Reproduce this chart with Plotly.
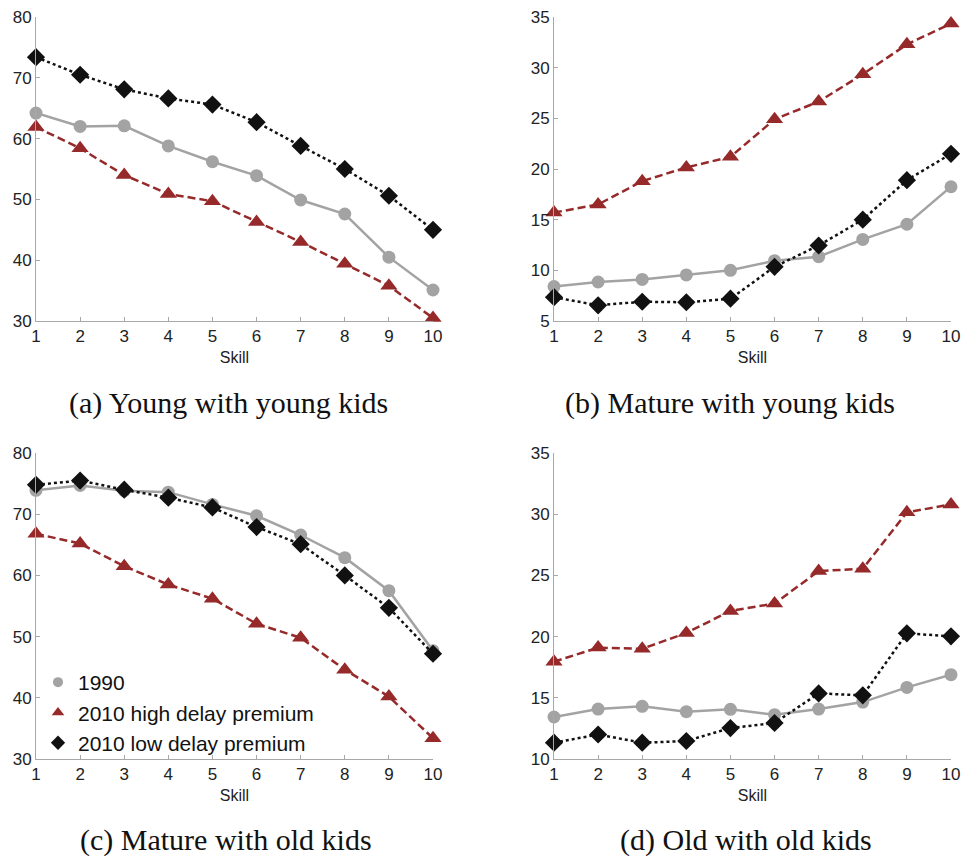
import plotly.graph_objects as go

skill = [1, 2, 3, 4, 5, 6, 7, 8, 9, 10]

# (a) Young with young kids
a_1990 = [64.2, 62.0, 62.1, 58.8, 56.2, 53.9, 49.9, 47.6, 40.5, 35.1]
a_high = [61.9, 58.4, 54.0, 50.9, 49.7, 46.3, 43.0, 39.4, 35.8, 30.5]
a_low = [73.4, 70.5, 68.1, 66.6, 65.6, 62.7, 58.8, 55.0, 50.6, 45.0]

# (b) Mature with young kids
b_1990 = [8.4, 8.85, 9.1, 9.55, 10.0, 10.95, 11.35, 13.05, 14.55, 18.25]
b_high = [15.7, 16.5, 18.8, 20.15, 21.2, 24.9, 26.65, 29.35, 32.3, 34.35]
b_low = [7.35, 6.55, 6.9, 6.85, 7.2, 10.35, 12.45, 15.0, 18.9, 21.5]

# (c) Mature with old kids
c_1990 = [73.9, 74.7, 73.85, 73.6, 71.6, 69.75, 66.6, 62.9, 57.5, 47.7]
c_high = [66.8, 65.2, 61.5, 58.5, 56.2, 52.1, 49.8, 44.6, 40.2, 33.4]
c_low = [74.8, 75.5, 74.0, 72.7, 71.1, 67.9, 65.1, 60.0, 54.7, 47.2]

# (d) Old with old kids
d_1990 = [13.43, 14.08, 14.3, 13.87, 14.06, 13.62, 14.08, 14.65, 15.85, 16.89]
d_high = [17.95, 19.1, 19.0, 20.3, 22.1, 22.7, 25.35, 25.55, 30.15, 30.8]
d_low = [11.33, 12.0, 11.33, 11.47, 12.53, 12.94, 15.36, 15.2, 20.27, 20.02]

series_names = ["1990", "2010 high delay premium", "2010 low delay premium"]
captions = ["(a) Young with young kids", "(b) Mature with young kids",
            "(c) Mature with old kids", "(d) Old with old kids"]
y_ranges = [[30, 80], [5, 35], [30, 80], [10, 35]]
y_dtick = [10, 5, 10, 5]

GRAY = "#a3a3a3"
RED = "#962a2a"
BLACK = "#111111"
AXIS = "#a8a8a8"

W, H = 961, 858
# pixel layout of the four panels: (left, right, top, bottom)
boxes = [(36, 433, 17, 321), (554, 951, 17, 321),
         (36, 433, 453, 759), (554, 951, 453, 759)]
caption_x = [228, 730, 226, 746]
caption_y = [403, 403, 840, 840]


def px(v):
    return v / W


def py(v):
    return 1 - v / H


fig = go.Figure()
panels = [(a_1990, a_high, a_low), (b_1990, b_high, b_low),
          (c_1990, c_high, c_low), (d_1990, d_high, d_low)]

for i, (s90, shi, slo) in enumerate(panels):
    xa = "x" if i == 0 else f"x{i+1}"
    ya = "y" if i == 0 else f"y{i+1}"
    fig.add_trace(go.Scatter(x=skill, y=s90, mode="lines+markers", xaxis=xa, yaxis=ya,
                             line=dict(color=GRAY, width=2.5),
                             marker=dict(symbol="circle", size=13, color=GRAY),
                             showlegend=False, cliponaxis=False))
    fig.add_trace(go.Scatter(x=skill, y=shi, mode="lines+markers", xaxis=xa, yaxis=ya,
                             line=dict(color=RED, width=2.5, dash="8px,4px"),
                             marker=dict(symbol="triangle-up", size=15, color=RED),
                             showlegend=False, cliponaxis=False))
    fig.add_trace(go.Scatter(x=skill, y=slo, mode="lines+markers", xaxis=xa, yaxis=ya,
                             line=dict(color=BLACK, width=2.5, dash="dot"),
                             marker=dict(symbol="diamond", size=14, color=BLACK),
                             showlegend=False, cliponaxis=False))

# legend-only traces (marker glyphs only), shown in panel (c)
for name, sym, col, sz in zip(series_names, ["circle", "triangle-up", "diamond"],
                              [GRAY, RED, BLACK], [10, 11, 11]):
    fig.add_trace(go.Scatter(x=[None], y=[None], mode="markers", xaxis="x3", yaxis="y3",
                             name=name, marker=dict(symbol=sym, size=sz, color=col),
                             showlegend=True))

layout = dict(width=W, height=H, margin=dict(l=0, r=0, t=0, b=0, autoexpand=False),
              paper_bgcolor="white", plot_bgcolor="white",
              font=dict(family="Liberation Sans, Arial, sans-serif", color="#222222"))

annotations = []
for i, (l, r, t, b) in enumerate(boxes):
    xk = "xaxis" if i == 0 else f"xaxis{i+1}"
    yk = "yaxis" if i == 0 else f"yaxis{i+1}"
    ya = "y" if i == 0 else f"y{i+1}"
    xa = "x" if i == 0 else f"x{i+1}"
    layout[xk] = dict(domain=[px(l), px(r)], range=[1, 10], anchor=ya,
                      tickmode="array", tickvals=skill, ticktext=[str(s) for s in skill],
                      ticks="inside", ticklen=4, tickcolor=AXIS, automargin=False,
                      ticklabeloverflow="allow",
                      showline=True, linecolor=AXIS, linewidth=1,
                      showgrid=False, zeroline=False,
                      tickfont=dict(size=17, color="#222222"),
                      title=dict(text="Skill", font=dict(size=16, color="#222222"), standoff=6))
    layout[yk] = dict(domain=[py(b), py(t)], range=y_ranges[i], anchor=xa,
                      dtick=y_dtick[i], ticks="inside", ticklen=4, tickcolor=AXIS,
                      automargin=False, ticklabeloverflow="allow",
                      showline=True, linecolor=AXIS, linewidth=1,
                      showgrid=False, zeroline=False,
                      tickfont=dict(size=17, color="#222222"))
    annotations.append(dict(text=captions[i], xref="paper", yref="paper",
                            x=px(caption_x[i]), y=py(caption_y[i]),
                            xanchor="center", yanchor="middle", showarrow=False,
                            font=dict(family="Liberation Serif, DejaVu Serif, serif",
                                      size=30, color="#111111")))

layout["annotations"] = annotations
layout["legend"] = dict(x=px(38), y=py(662), xanchor="left", yanchor="top",
                        bgcolor="rgba(0,0,0,0)", font=dict(size=21, color="#111111"),
                        tracegroupgap=0, itemwidth=30)
fig.update_layout(**layout)
fig.write_html("out.html", config={"displayModeBar": False},
               post_script="document.documentElement.style.margin='0';"
                           "document.body.style.margin='0';"
                           "document.body.style.overflow='hidden';")
